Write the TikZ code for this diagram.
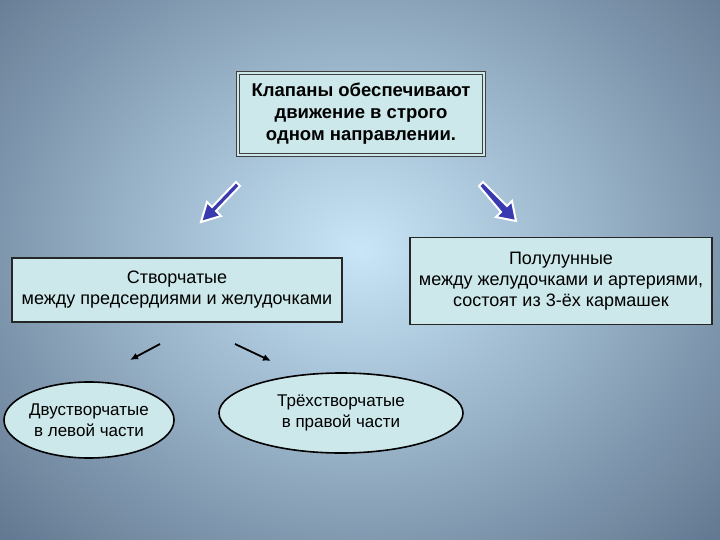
\documentclass[tikz,border=0pt]{standalone}
\usepackage{fontspec}
\setmainfont{Liberation Sans}
\usetikzlibrary{shapes.geometric,arrows.meta}
\definecolor{boxfill}{HTML}{CCE8EA}
\definecolor{bgin}{HTML}{C8E6F8}
\definecolor{bgout}{HTML}{5A6F88}
\definecolor{arrblue}{HTML}{3A3AB0}
\begin{document}
\begin{tikzpicture}[x=1pt,y=-1pt,
  box/.style={draw=black!85,fill=boxfill,line width=1.5pt,align=center,inner sep=2pt,font=\fontsize{18}{21}\selectfont},
  ell/.style={draw=black,fill=boxfill,line width=1.6pt,ellipse,inner sep=-4pt,align=center,font=\fontsize{17}{21}\selectfont},
  bigarrow/.style={fill=arrblue,draw=white,line width=2pt},
  small/.style={-{Latex[length=8pt,width=7pt]},line width=1.8pt,black}]
\useasboundingbox (0,0) rectangle (720,540);
\fill[bgout] (0,0) rectangle (720,540);
\shade[inner color=bgin,outer color=bgout] (-180,-200) rectangle (900,700);
% top box
\node[box,minimum width=246,minimum height=82,font=\fontsize{18.5}{22}\bfseries\selectfont,double=boxfill,double distance=1.6pt,line width=1.3pt,draw=black!75] (top) at (361,114) {Клапаны обеспечивают\\движение в строго\\одном направлении.};
% big arrows
\path[bigarrow]
 (240,186) -- (236,182) -- (212,207) -- (207,202) -- (201,222) -- (221,216) -- (216,211) -- cycle;
\path[bigarrow]
 (479,186) -- (483,182) -- (507,206) -- (512,201) -- (516,221) -- (496,217) -- (501,212) -- cycle;
% boxes
\node[box,minimum width=330,minimum height=64] (left) at (177,290) {Створчатые\\между предсердиями и желудочками};
\node[box,minimum width=302,minimum height=87] (right) at (561,281) {Полулунные\\между желудочками и артериями,\\состоят из 3-ёх кармашек};
% small arrows
\coordinate (a1s) at (160,344); \coordinate (a1e) at (130,360);
\coordinate (a2s) at (235,344); \coordinate (a2e) at (271,361);
\draw[small] (a1s) -- (a1e);
\draw[small] (a2s) -- (a2e);
% ellipses
\node[ell,minimum width=170,minimum height=76] (e1) at (89,420) {Двустворчатые\\в левой части};
\node[ell,minimum width=244,minimum height=80] (e2) at (341,413) {Трёхстворчатые\\в правой части};
\end{tikzpicture}
\end{document}
